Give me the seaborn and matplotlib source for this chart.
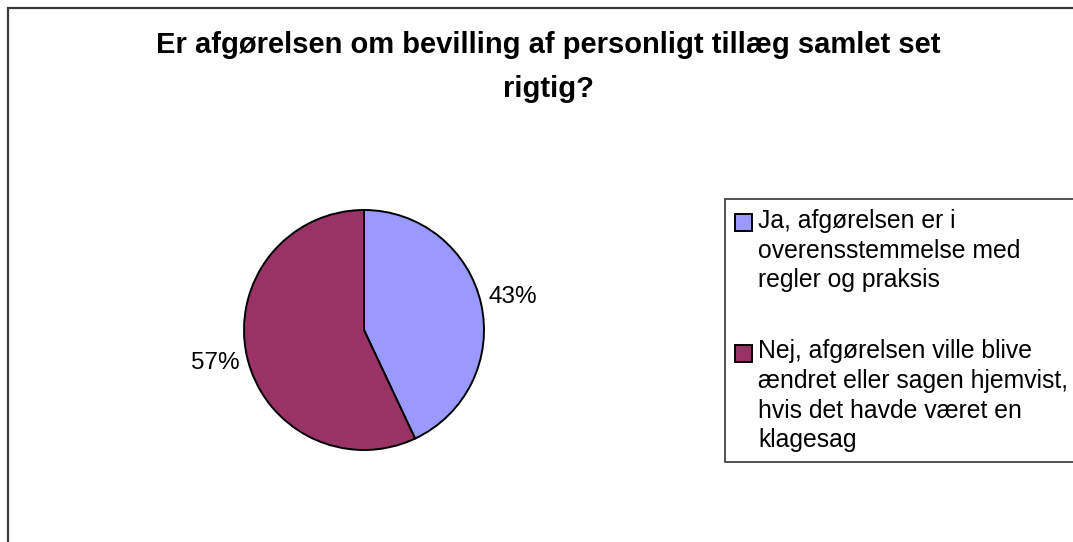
"""Pie chart: Er afgørelsen om bevilling af personligt tillæg samlet set rigtig?"""
import matplotlib
matplotlib.use("Agg")
import matplotlib.pyplot as plt
import matplotlib.patches as mpatches
import seaborn as sns


TITLE = "Er afgørelsen om bevilling af personligt tillæg samlet set\nrigtig?"
CATEGORIES = [
    "Ja, afgørelsen er i\noverensstemmelse med\nregler og praksis",
    "Nej, afgørelsen ville blive\nændret eller sagen hjemvist,\nhvis det havde været en\nklagesag",
]
SHARES = [43, 57]
COLORS = ["#9999FF", "#993366"]

W, H = 1073, 542
DPI = 100


def main():
    sns.set_theme(style="white")
    plt.rcParams["font.family"] = ["Liberation Sans", "DejaVu Sans"]
    plt.rcParams["text.color"] = "black"

    fig = plt.figure(figsize=(W / DPI, H / DPI), dpi=DPI)
    fig.patch.set_facecolor("white")

    # outer chart-area border (runs off the right and bottom edges)
    fig.patches.append(mpatches.Rectangle(
        (8 / W, -0.05), 1.1, 1 - 8 / H + 0.05, transform=fig.transFigure,
        fill=False, edgecolor="#3a3a3a", linewidth=1.6, clip_on=False,
    ))

    fig.text(548 / W, 1 - 67 / H, TITLE, ha="center", va="center",
             fontsize=21, fontweight="bold", linespacing=1.72, color="black")

    # pie centred at (364, 330) px with radius 120 px
    r = 120
    ax = fig.add_axes([(364 - r) / W, (H - 330 - r) / H, 2 * r / W, 2 * r / H])
    wedges, _, autotexts = ax.pie(
        SHARES, colors=COLORS, startangle=90, counterclock=False,
        autopct="%d%%", pctdistance=1.27,
        wedgeprops=dict(edgecolor="black", linewidth=1.4),
        textprops=dict(fontsize=17.5, color="black"),
    )
    ax.set_xlim(-1, 1)
    ax.set_ylim(-1, 1)
    ax.set_aspect("equal")
    ax.axis("off")

    leg = fig.legend(
        wedges, CATEGORIES, loc="upper left",
        bbox_to_anchor=(725 / W, 1 - 199 / H), borderaxespad=0,
        fontsize=17.8, frameon=True, fancybox=False, shadow=False,
        edgecolor="black", handlelength=0.68, handleheight=0.68,
        handletextpad=0.25, labelspacing=1.9, borderpad=0.4,
    )
    leg.get_frame().set_linewidth(1.2)
    for t in leg.get_texts():
        t.set_linespacing(1.3)

    # put each legend square level with the first line of its label
    fig.canvas.draw()
    renderer = fig.canvas.get_renderer()
    for handle, text in zip(leg.legend_handles, leg.get_texts()):
        tb = text.get_window_extent(renderer)
        nlines = text.get_text().count("\n") + 1
        first_mid = tb.y1 - tb.height / nlines / 2
        hb = handle.get_window_extent(renderer)
        shift_px = first_mid - (hb.y0 + hb.y1) / 2
        handle.set_y(handle.get_y() + shift_px * 72 / DPI)

    plt.savefig("out.png", dpi=DPI)
    plt.close()


if __name__ == "__main__":
    main()
